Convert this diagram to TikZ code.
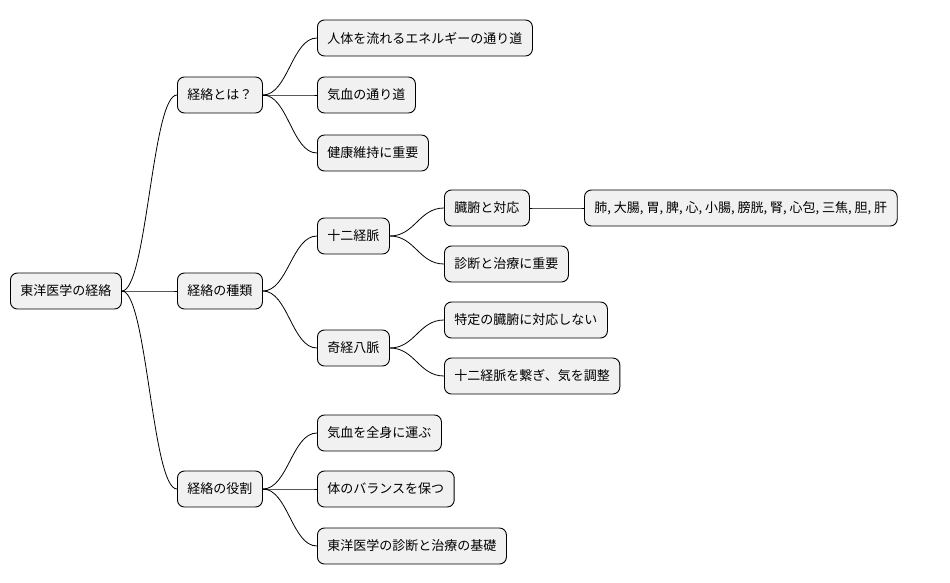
\documentclass[tikz,border=0pt]{standalone}
\usepackage{fontspec}
\setmainfont{Noto Sans CJK JP}
\begin{document}
\begin{tikzpicture}[x=1pt,y=-1pt,
  box/.style={draw=black,line width=0.9pt,fill={rgb,255:red,241;green,241;blue,241},rounded corners=7pt,
    minimum height=36pt,inner xsep=10pt,anchor=west,font=\fontsize{13}{15}\selectfont},
  con/.style={line width=0.8pt}]
\useasboundingbox (0,0) rectangle (950,583);
\node[box] (r) at (10,291) {東洋医学の経絡};
\node[box] (a) at (177,95) {経絡とは？};
\node[box] (b) at (177,291) {経絡の種類};
\node[box] (c) at (177,489) {経絡の役割};
\node[box] (a1) at (317,38) {人体を流れるエネルギーの通り道};
\node[box] (a2) at (317,95) {気血の通り道};
\node[box] (a3) at (317,153) {健康維持に重要};
\node[box] (b1) at (317,236) {十二経脈};
\node[box] (b2) at (317,348) {奇経八脈};
\node[box] (b11) at (444,208) {臓腑と対応};
\node[box] (b12) at (444,264) {診断と治療に重要};
\node[box] (b21) at (444,320) {特定の臓腑に対応しない};
\node[box] (b22) at (444,376) {十二経脈を繋ぎ、気を調整};
\node[box] (b111) at (584,208) {肺, 大腸, 胃, 脾, 心, 小腸, 膀胱, 腎, 心包, 三焦, 胆, 肝};
\node[box] (c1) at (317,433) {気血を全身に運ぶ};
\node[box] (c2) at (317,489) {体のバランスを保つ};
\node[box] (c3) at (317,546) {東洋医学の診断と治療の基礎};
\newcommand{\lnk}[2]{\draw[con] (#1.east) -- ++(12,0) .. controls ($(#1.east)+(30,0)$) and ($(#2.west)+(-30,0)$) .. ($(#2.west)+(-12,0)$) -- (#2.west);}
\foreach \p/\c in {r/a,r/b,r/c,a/a1,a/a2,a/a3,b/b1,b/b2,b1/b11,b1/b12,b2/b21,b2/b22,b11/b111,c/c1,c/c2,c/c3}{
  \draw[con] (\p.east) .. controls ([xshift=25]\p.east) and ([xshift=-25]\c.west) .. (\c.west);
}
\end{tikzpicture}
\end{document}
